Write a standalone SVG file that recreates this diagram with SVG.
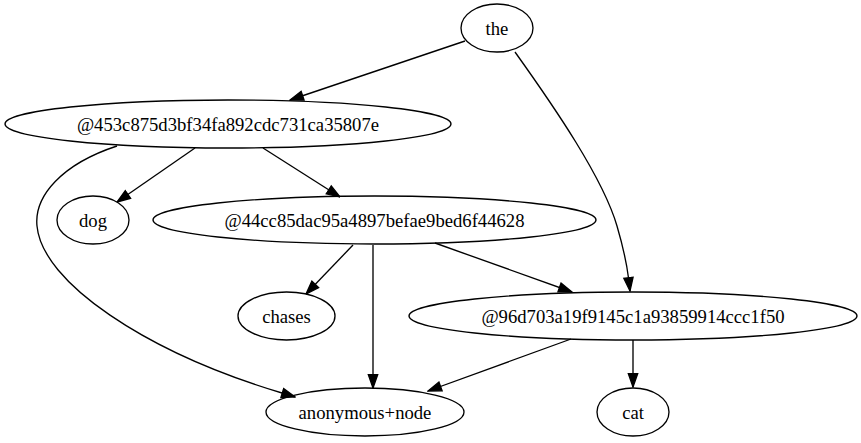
<svg xmlns="http://www.w3.org/2000/svg" width="861" height="443" viewBox="0 0 861 443">
<style>
.node ellipse{fill:none;stroke:#000;stroke-width:1.33}
.node text{font-size:18.67px;text-anchor:middle;fill:#000}
.edge path{fill:none;stroke:#000;stroke-width:1.33}
</style>
<defs>
<marker id="arr" markerUnits="userSpaceOnUse" markerWidth="15" markerHeight="12" viewBox="-1 -1 15 12" refX="13.33" refY="5" orient="auto">
<path d="M0,0.33 L13.33,5 L0,9.67 Z" fill="#000" stroke="#000" stroke-width="1.33"/>
</marker>
</defs>
<rect width="861" height="443" fill="#fff"/>
<g id="edges" class="edge">
<path marker-end="url(#arr)" d="M465,41 L290,100"/>
<path marker-end="url(#arr)" d="M515,52 C555,108 603,178 617,226 C624,250 627,266 628.5,278 L630,291"/>
<path marker-end="url(#arr)" d="M195,148 L117,202"/>
<path marker-end="url(#arr)" d="M263,148 L340,197"/>
<path marker-end="url(#arr)" d="M117,146 C62,164 34,196 37,226 C42,282 145,352 282,393 L295,397"/>
<path marker-end="url(#arr)" d="M353,245 L306,294"/>
<path marker-end="url(#arr)" d="M373,245 L373,388"/>
<path marker-end="url(#arr)" d="M435,243 L572,292"/>
<path marker-end="url(#arr)" d="M571,339 L428,391"/>
<path marker-end="url(#arr)" d="M633,340 L633,387"/>
</g>
<g class="node" font-family="'Liberation Serif', 'Times New Roman', Times, serif">
<g id="node-the"><ellipse cx="497" cy="28" rx="36" ry="24"/><text x="497" y="35">the</text></g>
<g id="node-n1"><ellipse cx="228" cy="124" rx="223" ry="24"/><text x="228" y="131">@453c875d3bf34fa892cdc731ca35807e</text></g>
<g id="node-dog"><ellipse cx="93" cy="220" rx="36" ry="24"/><text x="93" y="227">dog</text></g>
<g id="node-n2"><ellipse cx="374.5" cy="220" rx="221.5" ry="24"/><text x="374.5" y="227">@44cc85dac95a4897befae9bed6f44628</text></g>
<g id="node-chases"><ellipse cx="286.5" cy="316" rx="48.5" ry="24"/><text x="286.5" y="323">chases</text></g>
<g id="node-n3"><ellipse cx="633" cy="316" rx="224" ry="24"/><text x="633" y="323">@96d703a19f9145c1a93859914ccc1f50</text></g>
<g id="node-anon"><ellipse cx="365" cy="412" rx="99" ry="24"/><text x="365" y="419">anonymous+node</text></g>
<g id="node-cat"><ellipse cx="633" cy="412" rx="36" ry="24"/><text x="633" y="419">cat</text></g>
</g>
</svg>
